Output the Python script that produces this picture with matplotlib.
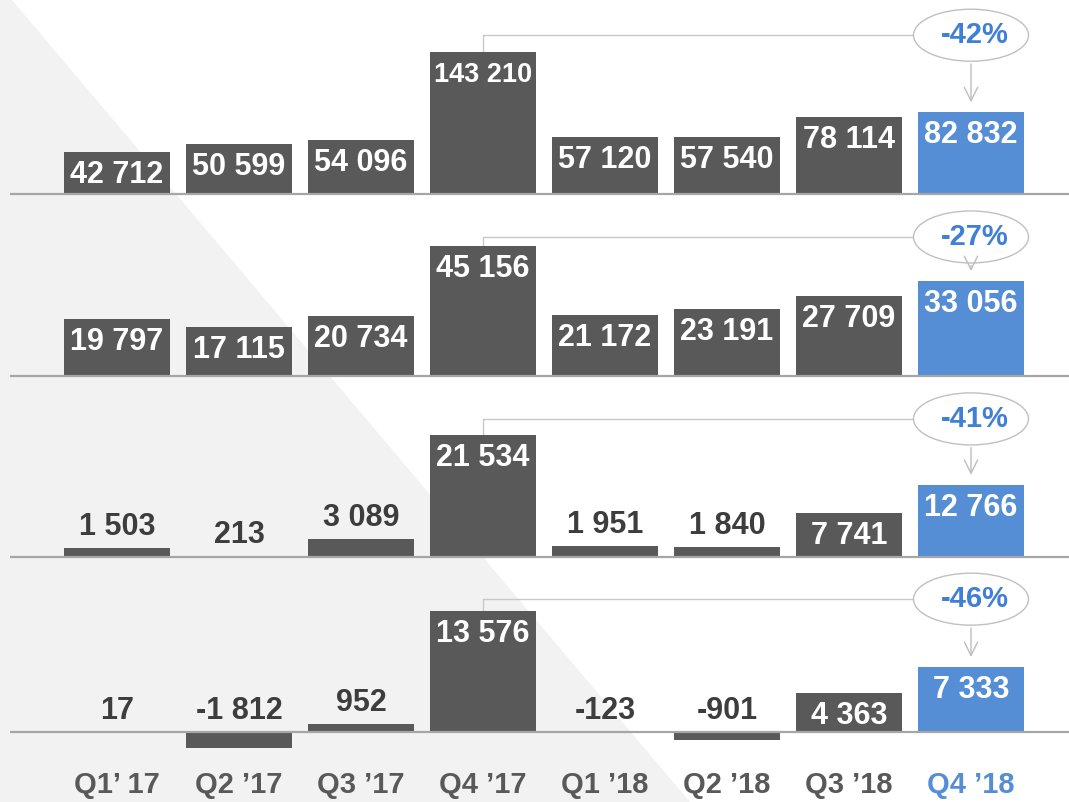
import numpy as np
import matplotlib
matplotlib.use('Agg')
from matplotlib import pyplot as plt
from matplotlib.patches import Ellipse, Polygon

plt.rcParams['font.family'] = ['Liberation Sans', 'DejaVu Sans']
plt.rcParams['font.weight'] = 'bold'

quarters = ["Q1\u2019 17", "Q2 \u201917", "Q3 \u201917", "Q4 \u201917",
            "Q1 \u201918", "Q2 \u201918", "Q3 \u201918", "Q4 \u201918"]
panel_1 = [42712, 50599, 54096, 143210, 57120, 57540, 78114, 82832]
panel_2 = [19797, 17115, 20734, 45156, 21172, 23191, 27709, 33056]
panel_3 = [1503, 213, 3089, 21534, 1951, 1840, 7741, 12766]
panel_4 = [17, -1812, 952, 13576, -123, -901, 4363, 7333]
changes = ['-42%', '-27%', '-41%', '-46%']

GREY = '#595959'
BLUE = '#558ed5'
PCT_BLUE = '#3f7fd6'
DARK_TXT = '#3d3d3d'
LINE = '#a6a6a6'

W, H = 1069, 802
fig = plt.figure(figsize=(W / 100, H / 100), dpi=100)
fig.patch.set_facecolor('white')

# light grey triangle in the background
bg = Polygon([(0, 1), (12 / W, 1), (690 / W, 0), (0, 0)], closed=True,
             transform=fig.transFigure, facecolor='#f2f2f2', edgecolor='none', zorder=-1)
fig.add_artist(bg)

# pixel layout: baseline row, px per unit, axes rows
baselines = [194, 376, 557, 732]
px_per_unit = [0.00099, 0.00288, 0.00567, 0.0089]
rows = [(0, 205), (205, 385), (385, 565), (565, 760)]
bracket_gap = [17, 9, 16, 12]

x = np.arange(len(quarters))
x_left, x_right = 10, W
c0, step = 117, 122
xlim = ((x_left - c0) / step, (x_right - c0) / step)


def fmt(v):
    return f"{v:,}".replace(',', ' ')


for k, vals in enumerate([panel_1, panel_2, panel_3, panel_4]):
    top, bot = rows[k]
    b, s = baselines[k], px_per_unit[k]
    ax = fig.add_axes([x_left / W, 1 - bot / H, (x_right - x_left) / W, (bot - top) / H])
    ax.set_facecolor('none')
    ax.set_xlim(*xlim)
    ax.set_ylim(-(bot - b) / s, (b - top) / s)
    for sp in ax.spines.values():
        sp.set_visible(False)
    ax.set_yticks([])

    colors = [GREY] * 7 + [BLUE]
    ax.bar(x, vals, width=0.87, color=colors, zorder=2)
    ax.axhline(0, color=LINE, lw=1.6, zorder=3)

    for i, v in enumerate(vals):
        h_px = v * s
        # the longest label is squeezed to fit its bar, as in the original
        size = 19.5 if len(fmt(v)) > 6 else 22
        if h_px >= 30:
            off = -min(23, h_px - 16)
            ax.annotate(fmt(v), (i, v), xytext=(0, off * 0.72), textcoords='offset points',
                        ha='center', va='center', color='white', fontsize=size,
                        fontweight='bold', zorder=4)
        else:
            ref = max(v, 0)
            ax.annotate(fmt(v), (i, ref), xytext=(0, 21 * 0.72), textcoords='offset points',
                        ha='center', va='center', color=DARK_TXT, fontsize=size,
                        fontweight='bold', zorder=4)

    # bracket from Q4'17 to Q4'18 with change bubble
    level = vals[3] + bracket_gap[k] / s
    ew, eh = 115 / step, 52 / s
    ax.plot([3, 3, 7 - ew / 2], [vals[3], level, level], color='#c8c8c8', lw=1, zorder=1)
    ax.add_patch(Ellipse((7, level), ew, eh, facecolor='white', edgecolor='#c0c0c0',
                         lw=1, zorder=5))
    ax.annotate('', xy=(7, vals[7] + 7 / s), xytext=(7, level - eh / 2),
                arrowprops=dict(arrowstyle='->', color='#bdbdbd', lw=1, mutation_scale=24),
                zorder=5)
    ax.annotate(changes[k], (7, level), xytext=(3, 0), textcoords='offset points',
                ha='center', va='center', color=PCT_BLUE, fontsize=21,
                fontweight='bold', zorder=6)

    if k == 3:
        ax.set_xticks(x)
        ax.set_xticklabels(quarters, fontsize=21, fontweight='bold', color=GREY)
        ax.tick_params(axis='x', length=0, pad=8)
        ax.get_xticklabels()[-1].set_color(BLUE)
    else:
        ax.set_xticks([])

fig.savefig('out.png', dpi=100)
